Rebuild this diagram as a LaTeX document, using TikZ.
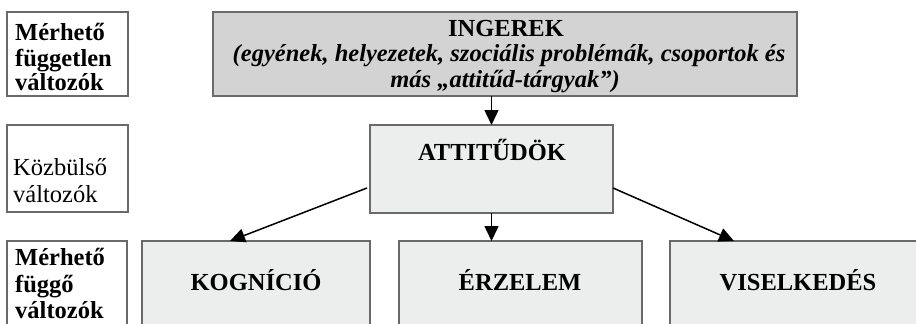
\documentclass[tikz,border=0pt]{standalone}
\usepackage{fontspec}
\setmainfont{Liberation Serif}
\usetikzlibrary{arrows.meta,calc}
\definecolor{edgegray}{HTML}{6A6A6A}
\definecolor{darkfill}{HTML}{D3D3D3}
\definecolor{lightfill}{HTML}{ECEDED}
\tikzset{
  boxbase/.style={draw=edgegray, line width=1.1pt, inner sep=0pt, outer sep=0pt, anchor=north west},
  labelbox/.style={boxbase, fill=white},
  stimbox/.style={boxbase, fill=darkfill},
  mainbox/.style={boxbase, fill=lightfill},
  txt/.style={anchor=base, inner sep=0pt, font=\fontsize{24.5}{26}\selectfont\bfseries},
  sidetxt/.style={anchor=base west, inner sep=0pt, font=\fontsize{24.5}{26}\selectfont},
  boldside/.style={sidetxt, font=\fontsize{24.5}{26}\selectfont\bfseries},
  arr/.style={line width=1.5pt, -{Triangle[length=15pt,width=14pt]}}
}
\begin{document}
\begin{tikzpicture}[x=1pt,y=-1pt]
\useasboundingbox (0,0) rectangle (916,324);
\clip (0,0) rectangle (916,324);

% row labels on the left
\node[labelbox, minimum width=121pt, minimum height=84pt] (lab1) at (7,12) {};
\node[labelbox, minimum width=121pt, minimum height=87pt] (lab2) at (7,125) {};
\node[labelbox, minimum width=120pt, minimum height=95pt] (lab3) at (7,241) {};

\node[boldside] (l1a) at (15,40) {Mérhető};
\node[boldside] (l1b) at (15,66) {független};
\node[boldside] (l1c) at (15,90) {változók};

\node[sidetxt] (l2a) at (13,175) {Közbülső};
\node[sidetxt] (l2b) at (13,202) {változók};

\node[boldside] (l3a) at (15,265) {Mérhető};
\node[boldside] (l3b) at (15,292) {függő};
\node[boldside] (l3c) at (15,318) {változók};

% stimuli
\node[stimbox, minimum width=584pt, minimum height=84pt] (ing) at (213,12) {};
\node[txt] (ingt1) at (506,36) {INGEREK};
\node[txt, font=\fontsize{24.5}{26}\selectfont\bfseries\itshape] (ingt2) at (509,61)
  {(egyének, helyezetek, szociális problémák, csoportok és};
\node[txt, font=\fontsize{24.5}{26}\selectfont\bfseries\itshape] (ingt3) at (505,87)
  {más „attitűd-tárgyak”)};

% attitudes
\node[mainbox, minimum width=243pt, minimum height=88pt] (att) at (370,125) {};
\node[txt] (attt) at (492,160) {ATTITŰDÖK};

% components
\node[mainbox, minimum width=228pt, minimum height=100pt] (kog) at (142,241) {};
\node[txt] (kogt) at (256,290) {KOGNÍCIÓ};
\node[mainbox, minimum width=243pt, minimum height=100pt] (erz) at (399,241) {};
\node[txt] (erzt) at (520,290) {ÉRZELEM};
\node[mainbox, minimum width=256pt, minimum height=100pt] (vis) at (670,241) {};
\node[txt] (vist) at (798,290) {VISELKEDÉS};

% connectors
\draw[arr] (att.north |- ing.south) -- (att.north);
\draw[arr] ($(att.south west)+(-3,-25)$) -- ($(kog.north west)+(88,0)$);
\draw[arr] (att.south) -- (att.south |- erz.north);
\draw[arr] ($(att.south east)+(0,-25)$) -- ($(vis.north west)+(64,0)$);
\end{tikzpicture}
\end{document}
